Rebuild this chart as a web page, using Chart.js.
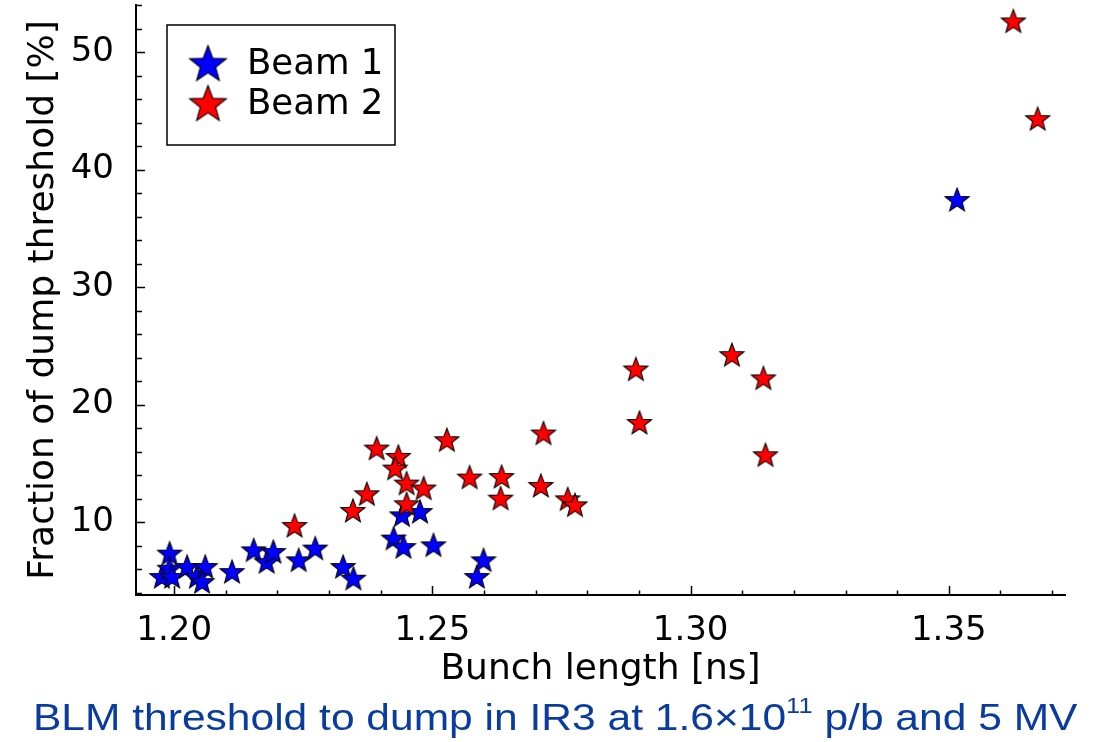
<!DOCTYPE html>
<html>
<head>
<meta charset="utf-8">
<script src="https://cdn.jsdelivr.net/npm/chart.js@4.4.0/dist/chart.umd.min.js"></script>
<style>
  html, body { margin: 0; padding: 0; background: #fff; }
  #wrap { position: relative; width: 1106px; height: 742px; overflow: hidden; }
  #chart { position: absolute; left: 0; top: 0; }
  #caption {
    position: absolute; left: 33px; top: 699px;
    font-family: "Liberation Sans", Arial, sans-serif;
    font-size: 37px; line-height: 37px; color: #0a3ca0;
    white-space: nowrap; transform-origin: 0 0;
  }
  #caption sup { font-size: 0.6em; line-height: 0; vertical-align: 0.75em; }
</style>
</head>
<body>
<div id="wrap">
  <canvas id="chart" width="1106" height="742"></canvas>
  <div id="caption">BLM threshold to dump in IR3 at 1.6×10<sup>11</sup> p/b and 5 MV</div>
</div>
<script>
// Data
const seriesNames = ["Beam 1", "Beam 2"];

const beam1Length = [1.1976, 1.1991, 1.1991, 1.1996, 1.2025, 1.2044, 1.2060, 1.2054,
    1.2112, 1.2154, 1.2179, 1.2192, 1.2241, 1.2273, 1.2327, 1.2347, 1.2425, 1.2444,
    1.2502, 1.2441, 1.2476, 1.2599, 1.2586, 1.3516];
const beam1Fraction = [5.37, 7.36, 6.08, 5.37, 6.22, 5.37, 6.22, 4.94,
    5.79, 7.64, 6.64, 7.50, 6.79, 7.79, 6.22, 5.23, 8.64, 7.92,
    8.07, 10.62, 10.90, 6.79, 5.37, 37.45];

const beam2Length = [1.2233, 1.2346, 1.2373, 1.2392, 1.2434, 1.2428, 1.2450, 1.2483,
    1.2450, 1.2528, 1.2572, 1.2634, 1.2632, 1.2715, 1.2710, 1.2762, 1.2776, 1.2894,
    1.2901, 1.3080, 1.3141, 1.3145, 1.3625, 1.3672];
const beam2Fraction = [9.71, 10.99, 12.41, 16.30, 15.59, 14.60, 13.32, 12.90,
    11.56, 17.01, 13.83, 13.88, 12.04, 17.58, 13.12, 11.98, 11.47, 23.03,
    18.48, 24.25, 22.27, 15.73, 52.64, 44.33];

const xTickLabels = ["1.20", "1.25", "1.30", "1.35"];
const yTickLabels = ["10", "20", "30", "40", "50"];

// five pointed star drawn on a small canvas, used as point style
function makeStar(r, fill) {
    const w = Math.ceil(2 * r * Math.sin(Math.PI * 2 / 5)) + 4;
    const h = Math.ceil(r * (1 + Math.cos(Math.PI / 5))) + 4;
    const c = document.createElement("canvas");
    c.width = w;
    c.height = h;
    const ctx = c.getContext("2d");
    const cx = w / 2, cy = 2 + r;
    ctx.beginPath();
    for (let i = 0; i < 10; i++) {
        const rad = i % 2 ? r * 0.42 : r;
        const a = -Math.PI / 2 + i * Math.PI / 5;
        ctx.lineTo(cx + rad * Math.cos(a), cy + rad * Math.sin(a));
    }
    ctx.closePath();
    ctx.fillStyle = fill;
    ctx.fill();
    ctx.lineWidth = 1.1;
    ctx.strokeStyle = "#000";
    ctx.stroke();
    return c;
}

const colors = ["#0000ff", "#ff0000"];
const pointStars = colors.map(c => makeStar(12.6, c));
const legendStars = colors.map(c => makeStar(19.3, c));

function toPoints(xs, ys) {
    return xs.map((x, i) => ({ x: x, y: ys[i] }));
}

// tick marks drawn inside the axes, long for labelled ticks
const innerTicks = {
    id: "innerTicks",
    afterDraw(chart) {
        const ctx = chart.ctx;
        const xs = chart.scales.x, ys = chart.scales.y;
        ctx.save();
        ctx.strokeStyle = "#000";
        ctx.lineWidth = 1.5;
        xs.ticks.forEach(t => {
            const px = Math.round(xs.getPixelForValue(t.value)) + 0.5;
            const len = t.label ? 9 : 4.5;
            ctx.beginPath();
            ctx.moveTo(px, xs.top);
            ctx.lineTo(px, xs.top - len);
            ctx.stroke();
        });
        ys.ticks.forEach(t => {
            const py = Math.round(ys.getPixelForValue(t.value)) + 0.5;
            const len = t.label ? 9 : 6;
            ctx.beginPath();
            ctx.moveTo(ys.right, py);
            ctx.lineTo(ys.right + len, py);
            ctx.stroke();
        });
        ctx.restore();
    }
};

// boxed legend in the upper left of the plot
const boxLegend = {
    id: "boxLegend",
    afterDraw(chart) {
        const ctx = chart.ctx;
        const x0 = chart.chartArea.left + 31, y0 = chart.chartArea.top + 20;
        ctx.save();
        ctx.fillStyle = "#fff";
        ctx.fillRect(x0, y0, 228, 120);
        ctx.lineWidth = 1.5;
        ctx.strokeStyle = "#000";
        ctx.strokeRect(x0, y0, 228, 120);
        ctx.font = '35.5px "DejaVu Sans"';
        ctx.textBaseline = "middle";
        ctx.textAlign = "left";
        chart.data.datasets.forEach((ds, i) => {
            const cy = y0 + 38 + i * 40;
            const img = legendStars[i];
            ctx.drawImage(img, x0 + 41 - img.width / 2, cy - img.height / 2);
            ctx.fillStyle = "#000";
            ctx.fillText(ds.label, x0 + 80, cy + 2);
        });
        ctx.restore();
    }
};

new Chart(document.getElementById("chart"), {
    type: "scatter",
    data: {
        datasets: [{
            label: seriesNames[0],
            data: toPoints(beam1Length, beam1Fraction),
            pointStyle: pointStars[0],
            order: 1
        }, {
            label: seriesNames[1],
            data: toPoints(beam2Length, beam2Fraction),
            pointStyle: pointStars[1],
            order: 0
        }]
    },
    options: {
        responsive: false,
        animation: false,
        layout: { padding: { left: 0, right: 41, top: 5, bottom: 0 } },
        plugins: {
            legend: { display: false },
            tooltip: { enabled: false }
        },
        scales: {
            x: {
                type: "linear",
                min: 1.1926,
                max: 1.3725,
                border: { display: true, color: "#000", width: 2 },
                grid: { display: false },
                ticks: {
                    stepSize: 0.01,
                    autoSkip: false,
                    maxRotation: 0,
                    includeBounds: false,
                    padding: 8,
                    color: "#000",
                    font: { family: "DejaVu Sans", size: 34 },
                    callback: v => {
                        const s = v.toFixed(2);
                        return xTickLabels.includes(s) ? s : "";
                    }
                },
                title: {
                    display: true,
                    text: "Bunch length [ns]",
                    color: "#000",
                    font: { family: "DejaVu Sans", size: 36 },
                    padding: { top: 0, bottom: 51 }
                },
                afterFit: s => {
                    s.height = 147;
                    s.paddingLeft = 0;
                    s.paddingRight = 0;
                }
            },
            y: {
                type: "linear",
                min: 3.8,
                max: 54,
                border: { display: true, color: "#000", width: 2 },
                grid: { display: false },
                ticks: {
                    stepSize: 2,
                    autoSkip: false,
                    includeBounds: false,
                    padding: 14,
                    color: "#000",
                    font: { family: "DejaVu Sans", size: 34 },
                    callback: v => {
                        const s = String(Math.round(v));
                        return yTickLabels.includes(s) ? s : "";
                    }
                },
                title: {
                    display: true,
                    text: "Fraction of dump threshold [%]",
                    color: "#000",
                    font: { family: "DejaVu Sans", size: 36 },
                    padding: { top: 22, bottom: 0 }
                },
                afterFit: s => {
                    s.width = 136;
                    s.paddingTop = 0;
                    s.paddingBottom = 0;
                }
            }
        }
    },
    plugins: [innerTicks, boxLegend]
});

// stretch caption to the width it has in the original figure
const cap = document.getElementById("caption");
cap.style.transform = "scaleX(" + (1045 / cap.offsetWidth) + ")";
</script>
</body>
</html>
